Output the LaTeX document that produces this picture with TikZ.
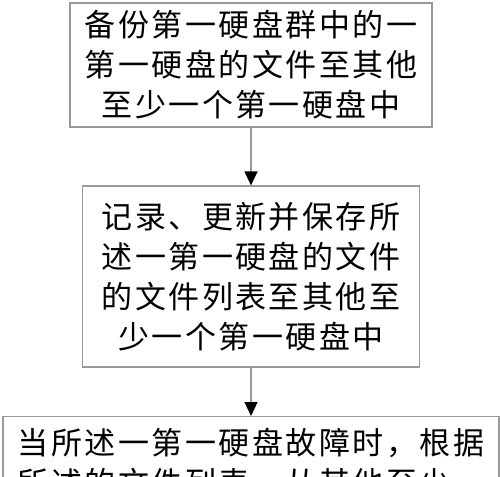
\documentclass[tikz,border=0pt]{standalone}
\usepackage{fontspec}
\newfontfamily\cjk[LetterSpace=8]{Noto Sans CJK SC}
\usetikzlibrary{arrows.meta}
\usetikzlibrary{positioning}

\tikzset{
  stepbox/.style={draw=gray!80, line width=1.2pt, inner sep=0pt, align=center,
    font=\cjk\fontsize{31pt}{40pt}\selectfont},
  flow/.style={draw=gray!80, line width=1.2pt, -{Triangle[length=14pt,width=13pt,fill=black,color=black]}}
}

\begin{document}
\begin{tikzpicture}[x=1pt,y=-1pt]
        \useasboundingbox (0,0) rectangle (500,476);
        \node[stepbox, minimum width=362pt, minimum height=124pt] (S1) at (251,65)
          {备份第一硬盘群中的一\\第一硬盘的文件至其他\\至少一个第一硬盘中};
        \node[stepbox, minimum width=337pt, minimum height=181pt] (S2) at (251,276.5)
          {记录、更新并保存所\\述一第一硬盘的文件\\的文件列表至其他至\\少一个第一硬盘中};
        \node[stepbox, minimum width=496pt, minimum height=92pt, anchor=north] (S3) at (251,416)
          {当所述一第一硬盘故障时，根据\\所述的文件列表，从其他至少一};

        \draw[flow] (S1) -- (S2);
        \draw[flow] (S2) -- (S3);
    \end{tikzpicture}
\end{document}
